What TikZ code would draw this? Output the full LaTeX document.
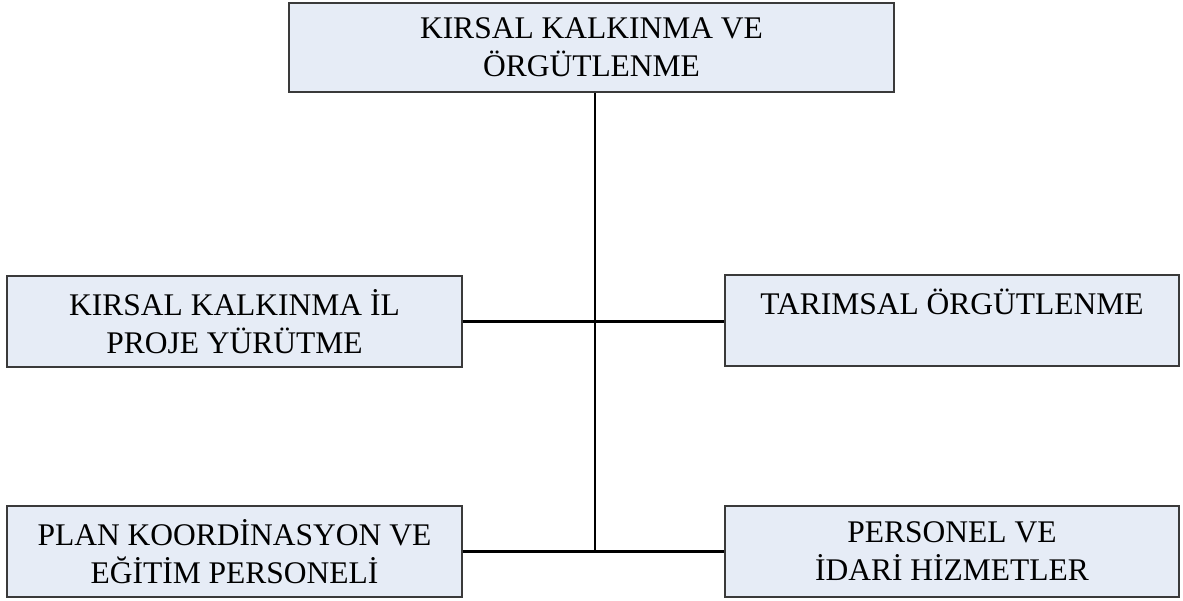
\documentclass[tikz,border=0pt]{standalone}
\usepackage{fontspec}
\setmainfont{Liberation Serif}
\definecolor{boxfill}{HTML}{E6ECF6}
\definecolor{boxline}{HTML}{3A3A3A}
\begin{document}
\begin{tikzpicture}[x=1pt,y=-1pt,
    unit/.style={draw=boxline,line width=1.2pt,fill=boxfill,rectangle,align=center,
      inner sep=0pt,font=\fontsize{31.5}{38}\selectfont},
    link/.style={line width=2.6pt,black}]
   \useasboundingbox (0,0) rectangle (1183,600);
   \node[unit,minimum width=605pt,minimum height=89pt] (kirsal) at (591.5,47.5) {KIRSAL KALKINMA VE\\ÖRGÜTLENME};
   \node[unit,minimum width=455pt,minimum height=91pt] (ilproje) at (234.5,321.5) {KIRSAL KALKINMA İL\\PROJE YÜRÜTME};
   \node[unit,minimum width=454pt,minimum height=91pt] (tarimsal) at (952,320.5) {TARIMSAL ÖRGÜTLENME\\\mbox{}};
   \node[unit,minimum width=455pt,minimum height=91pt] (plan) at (234.5,551.5) {PLAN KOORDİNASYON VE\\EĞİTİM PERSONELİ};
   \node[unit,minimum width=454pt,minimum height=91pt] (personel) at (952,551.5) {PERSONEL VE\\İDARİ HİZMETLER};
   \coordinate (spine) at (595,551.5);
   \draw[link] (kirsal.south -| spine) -- (spine);
   \draw[link] (ilproje.east) -- (ilproje.east -| tarimsal.west);
   \draw[link] (plan.east) -- (personel.west);
\end{tikzpicture}
\end{document}
